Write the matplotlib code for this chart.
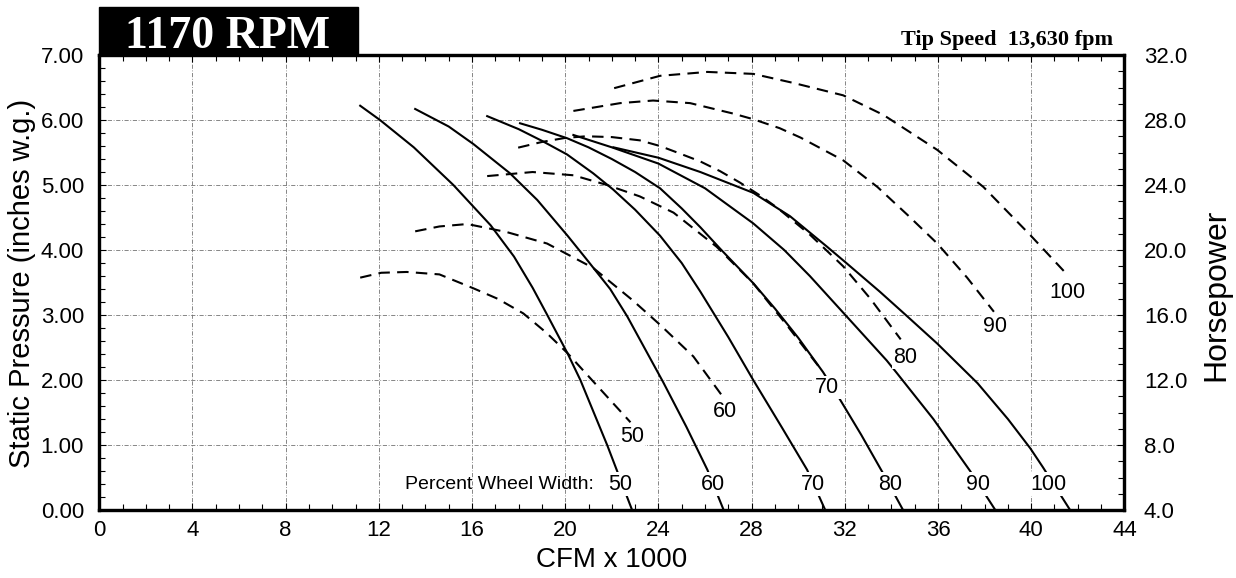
import matplotlib
matplotlib.use("Agg")
import matplotlib.pyplot as plt
from matplotlib.ticker import MultipleLocator, FormatStrFormatter
from matplotlib.patches import Rectangle

plt.rcParams['font.family'] = ['Liberation Sans', 'DejaVu Sans']

# static pressure curves (CFM x 1000, inches w.g.) per percent wheel width
sp50_x = [11.2, 12.05, 13.5, 15.2, 16.8, 17.8, 18.6, 19.2, 20.1, 20.65, 21.8, 22.87]
sp50_y = [6.22, 6.0, 5.58, 5.0, 4.38, 3.9, 3.42, 3.02, 2.41, 2.0, 1.0, 0.0]
sp60_x = [13.56, 15.0, 16.06, 17.63, 18.8, 20.1, 21.0, 21.93, 22.66, 24.2, 25.2, 26.1, 26.8]
sp60_y = [6.17, 5.9, 5.63, 5.18, 4.77, 4.22, 3.82, 3.4, 2.98, 1.97, 1.28, 0.62, 0.0]
sp70_x = [16.65, 18.0, 19.0, 20.08, 21.2, 22.06, 23.0, 24.07, 25.0, 25.8, 27.0, 28.07, 29.3, 30.38, 31.16]
sp70_y = [6.06, 5.86, 5.68, 5.47, 5.18, 4.93, 4.62, 4.22, 3.8, 3.36, 2.66, 2.0, 1.27, 0.62, 0.0]
sp80_x = [18.06, 19.0, 20.08, 21.0, 22.0, 23.0, 24.07, 25.0, 25.8, 26.65, 28.07, 29.0, 30.0, 31.07, 31.66, 32.7, 33.65, 34.5]
sp80_y = [5.95, 5.85, 5.72, 5.58, 5.4, 5.2, 4.95, 4.64, 4.35, 4.02, 3.49, 3.1, 2.65, 2.12, 1.78, 1.16, 0.56, 0.0]
sp90_x = [20.35, 22.0, 24.0, 26.0, 28.07, 29.4, 30.5, 32.1, 33.8, 34.25, 35.8, 37.38, 38.46]
sp90_y = [5.77, 5.58, 5.33, 4.95, 4.41, 4.0, 3.6, 2.97, 2.3, 2.1, 1.4, 0.6, 0.0]
sp100_x = [22.07, 24.0, 25.8, 28.07, 29.65, 31.24, 32.0, 33.5, 34.68, 35.97, 37.7, 39.0, 39.96, 40.5, 41.67]
sp100_y = [5.58, 5.42, 5.2, 4.88, 4.52, 4.05, 3.82, 3.36, 2.98, 2.56, 1.95, 1.4, 0.95, 0.66, 0.0]

# horsepower curves (CFM x 1000, hp)
hp50_x = [11.2, 12.1, 13.2, 14.6, 16.05, 17.1, 18.2, 19.2, 20.1, 21.4, 22.8]
hp50_y = [18.3, 18.6, 18.65, 18.5, 17.65, 17.0, 16.1, 14.9, 13.65, 11.6, 9.4]
hp60_x = [13.56, 14.6, 15.8, 17.5, 19.22, 21.2, 22.9, 24.07, 25.5, 26.7]
hp60_y = [21.15, 21.45, 21.6, 21.1, 20.4, 18.9, 16.9, 15.4, 13.45, 11.1]
hp70_x = [16.65, 18.6, 20.35, 21.8, 23.2, 24.65, 26.5, 28.07, 29.5, 30.9]
hp70_y = [24.55, 24.8, 24.6, 24.0, 23.3, 22.3, 20.2, 17.95, 15.4, 12.8]
hp80_x = [17.98, 19.0, 20.0, 20.9, 22.0, 23.2, 24.07, 24.9, 25.8, 26.65, 27.5, 28.37, 29.1, 30.5, 31.93, 33.1, 34.4]
hp80_y = [26.3, 26.65, 26.9, 27.0, 26.95, 26.75, 26.4, 25.95, 25.45, 24.85, 24.15, 23.35, 22.6, 20.95, 19.0, 17.0, 14.5]
hp90_x = [20.35, 22.36, 23.77, 25.36, 27.2, 28.07, 29.2, 30.1, 31.93, 33.4, 34.7, 35.97, 37.25, 38.4]
hp90_y = [28.56, 29.04, 29.2, 29.04, 28.4, 28.05, 27.5, 26.92, 25.52, 23.88, 22.15, 20.4, 18.3, 16.2]
hp100_x = [22.1, 24.07, 26.1, 28.07, 29.8, 31.93, 33.65, 35.97, 37.95, 39.96, 41.6]
hp100_y = [29.96, 30.72, 30.96, 30.84, 30.28, 29.52, 28.32, 26.16, 23.88, 20.92, 18.4]

widths = ['50', '60', '70', '80', '90', '100']
sp_curves = [(sp50_x, sp50_y), (sp60_x, sp60_y), (sp70_x, sp70_y),
             (sp80_x, sp80_y), (sp90_x, sp90_y), (sp100_x, sp100_y)]
hp_curves = [(hp50_x, hp50_y), (hp60_x, hp60_y), (hp70_x, hp70_y),
             (hp80_x, hp80_y), (hp90_x, hp90_y), (hp100_x, hp100_y)]

# where the labels sit
sp_label_x = [22.36, 26.35, 30.64, 33.95, 37.73, 40.74]
sp_label_y = 0.4
hp_label_x = [22.87, 26.87, 31.25, 34.6, 38.46, 41.55]
hp_label_y = [8.5, 10.05, 11.55, 13.4, 15.3, 17.4]

fig = plt.figure(figsize=(12.36, 5.78), dpi=100)
ax = fig.add_axes([0.0803, 0.1176, 0.8294, 0.7872])
ax2 = ax.twinx()

ax.set_xlim(0, 44)
ax.set_ylim(0, 7)
ax2.set_ylim(4, 32)

for (x, y) in sp_curves:
    ax.plot(x, y, color='black', lw=1.5, zorder=3)
for (x, y) in hp_curves:
    ax2.plot(x, y, color='black', lw=1.5, linestyle=(0, (5.5, 3.5)), zorder=3)

box = dict(facecolor='white', edgecolor='none', pad=1.0)
for w, lx in zip(widths, sp_label_x):
    ax.text(lx, sp_label_y, w, fontsize=15.5, ha='center', va='center', bbox=box, zorder=6)
for w, lx, ly in zip(widths, hp_label_x, hp_label_y):
    ax2.text(lx, ly, w, fontsize=15.5, ha='center', va='center', bbox=box, zorder=6)
ax.text(21.25, sp_label_y, 'Percent Wheel Width:', fontsize=14, ha='right', va='center', zorder=6)

# axes, ticks, grid
ax.xaxis.set_major_locator(MultipleLocator(4))
ax.xaxis.set_minor_locator(MultipleLocator(1))
ax.yaxis.set_major_locator(MultipleLocator(1))
ax.yaxis.set_minor_locator(MultipleLocator(0.2))
ax.yaxis.set_major_formatter(FormatStrFormatter('%.2f'))
ax2.yaxis.set_major_locator(MultipleLocator(4))
ax2.yaxis.set_minor_locator(MultipleLocator(1))
ax2.yaxis.set_major_formatter(FormatStrFormatter('%.1f'))

ax.tick_params(axis='x', which='both', direction='in', top=True, labelsize=16, pad=7)
ax.tick_params(axis='y', which='both', direction='in', right=False, labelsize=16, pad=11)
ax.tick_params(which='major', length=5, width=0.8)
ax.tick_params(which='minor', length=4, width=0.8)
ax2.tick_params(axis='y', which='both', direction='in', left=False, labelsize=16, pad=14)
ax2.tick_params(which='major', length=5, width=0.8)
ax2.tick_params(which='minor', length=4, width=0.8)

ax.grid(True, which='major', color='0.45', lw=0.6, linestyle=(0, (5, 2, 1, 2)))
ax.set_axisbelow(True)

for a in (ax, ax2):
    for s in a.spines.values():
        s.set_linewidth(2.3)

# title block
ax.add_patch(Rectangle((0, 1.0), 0.2524, 0.1055, transform=ax.transAxes,
                       facecolor='black', edgecolor='black', clip_on=False, zorder=10))
ax.text(0.1256, 1.016, '1170 RPM', transform=ax.transAxes, color='white',
        fontsize=33, fontweight='bold', family='Liberation Serif',
        ha='center', va='baseline', zorder=11)
ax.text(0.989, 1.022, 'Tip Speed  13,630 fpm', transform=ax.transAxes,
        fontsize=16, fontweight='bold', family='Liberation Serif',
        ha='right', va='baseline')

fig.text(0.0178, 0.5104, 'Static Pressure (inches w.g.)', rotation=90,
         fontsize=21, ha='center', va='center')
fig.text(0.9838, 0.4896, 'Horsepower', rotation=90, fontsize=23, ha='center', va='center')
fig.text(0.495, 0.031, 'CFM x 1000', fontsize=20, ha='center', va='center')

fig.savefig('out.png', dpi=100)
